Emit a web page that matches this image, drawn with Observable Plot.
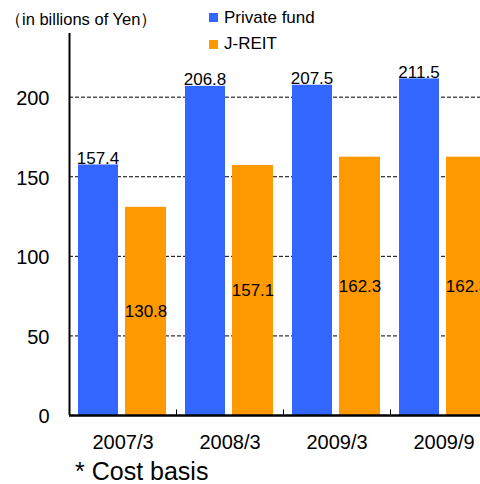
<!DOCTYPE html>
<html><head><meta charset="utf-8">
<script src="https://cdn.jsdelivr.net/npm/d3@7"></script>
<script src="https://cdn.jsdelivr.net/npm/@observablehq/plot@0.6"></script>
<style>
body{margin:0;background:#fff;font-family:"Liberation Sans",Arial,sans-serif;}
#wrap{position:relative;width:480px;height:484px;overflow:hidden;}
.t{position:absolute;color:#000;white-space:nowrap;line-height:1;}
.sw{position:absolute;width:9px;height:9px;}
</style></head>
<body><div id="wrap"></div>
<script>
const categories = ["2007/3", "2008/3", "2009/3", "2009/9"];
const privateFund = [157.4, 206.8, 207.5, 211.5];
const jreit = [130.8, 157.1, 162.3, 162.3];
const seriesNames = ["Private fund", "J-REIT"];
const colors = ["#3366FF", "#FF9900"];
const yTicks = [0, 50, 100, 150, 200];
const unitLabel = "（in billions of Yen）";
const note = "* Cost basis";

const rows = [];
categories.forEach((c, i) => {
  rows.push({cat: c, series: seriesNames[0], value: privateFund[i]});
  rows.push({cat: c, series: seriesNames[1], value: jreit[i]});
});
const pf = rows.filter(d => d.series === seriesNames[0]);
const jr = rows.filter(d => d.series === seriesNames[1]);

const chart = Plot.plot({
  width: 480, height: 484,
  marginTop: 33, marginBottom: 69, marginLeft: 69, marginRight: 0,
  style: {fontFamily: '"Liberation Sans", Arial, sans-serif', color: "#000", background: "#fff"},
  x: {domain: categories, range: [69, 497], padding: 0, axis: null},
  y: {domain: [0, 240], axis: null},
  marks: [
    Plot.ruleY(yTicks.filter(v => v > 0), {stroke: "#000", strokeWidth: 1, strokeDasharray: "4,2"}),
    Plot.barY(pf, {x: "cat", y: "value", fill: colors[0], insetLeft: 9, insetRight: 58}),
    Plot.barY(jr, {x: "cat", y: "value", fill: colors[1], insetLeft: 56, insetRight: 10}),
    Plot.text(pf, {x: "cat", y: "value", text: d => d.value.toFixed(1), dx: -25, dy: -1, lineAnchor: "bottom", fontSize: 17, fill: "#000"}),
    Plot.text(jr, {x: "cat", y: d => d.value / 2, text: d => d.value.toFixed(1), dx: 23, fontSize: 17, fill: "#000"}),
    Plot.ruleX(categories.slice(1), {x: d => d, dx: -53.5, y1: 0, y2: 3.5, stroke: "#000", strokeWidth: 1}),
    Plot.ruleY([0], {stroke: "#000", strokeWidth: 2.5}),
    Plot.ruleX([0], {x: () => categories[0], dx: -53.5, y1: 0, y2: 240, stroke: "#000", strokeWidth: 2}),
    Plot.text(yTicks, {y: d => d, x: () => categories[0], dx: -73.5, dy: 1.5, textAnchor: "end", text: d => String(d), fontSize: 20, fill: "#000"}),
    Plot.text(categories, {x: d => d, y: 0, dy: 27, text: d => d, fontSize: 20, fill: "#000"})
  ]
});
const wrap = document.getElementById("wrap");
wrap.appendChild(chart);
chart.style.position = "absolute"; chart.style.left = "0"; chart.style.top = "0";

function addText(txt, x, y, size) {
  const d = document.createElement("div");
  d.className = "t"; d.textContent = txt;
  d.style.left = x + "px"; d.style.top = y + "px"; d.style.fontSize = size + "px";
  wrap.appendChild(d);
  return d;
}
function addSwatch(color, x, y) {
  const d = document.createElement("div");
  d.className = "sw"; d.style.background = color;
  d.style.left = x + "px"; d.style.top = y + "px";
  wrap.appendChild(d);
}
addText(unitLabel, 5, 11, 16.5);
addSwatch(colors[0], 209, 13);
addText(seriesNames[0], 224, 9, 17);
addSwatch(colors[1], 209, 40);
addText(seriesNames[1], 224, 35, 17);
addText(note, 75, 459, 25);
</script></body></html>
